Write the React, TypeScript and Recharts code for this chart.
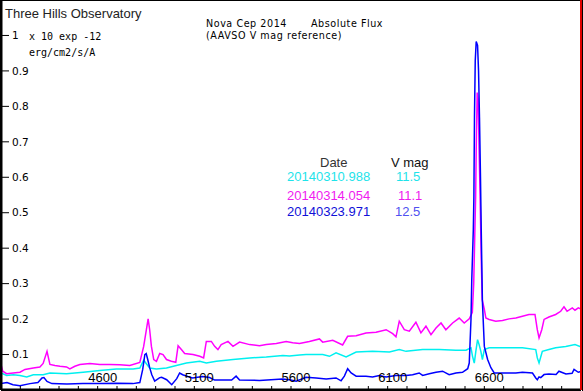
import React from 'react';
import { LineChart, Line, XAxis, YAxis } from 'recharts';

// wavelength (Angstrom), flux (x 10 exp -12 erg/cm2/s/A)
const cyanSpec: [number, number][] = [
  [4100, 0.048], [4129, 0.041], [4164, 0.043], [4198, 0.041], [4233, 0.037], [4267, 0.043],
  [4318, 0.043], [4353, 0.048], [4439, 0.046], [4525, 0.05], [4611, 0.055], [4697, 0.0595],
  [4749, 0.0595], [4783, 0.0595], [4818, 0.062], [4838, 0.084], [4852, 0.074], [4869, 0.062],
  [4904, 0.0595], [4956, 0.062], [5007, 0.069], [5059, 0.076], [5128, 0.081], [5162, 0.076],
  [5214, 0.081], [5300, 0.086], [5386, 0.0905], [5472, 0.093], [5558, 0.097], [5592, 0.096],
  [5644, 0.099], [5678, 0.1], [5764, 0.1], [5799, 0.095], [5833, 0.105], [5885, 0.093],
  [5937, 0.107], [6022, 0.109], [6109, 0.107], [6160, 0.114], [6195, 0.109], [6281, 0.114],
  [6367, 0.114], [6453, 0.112], [6505, 0.112], [6531, 0.119], [6539, 0.095], [6548, 0.076],
  [6556, 0.109], [6565, 0.142], [6573, 0.128], [6582, 0.109], [6590, 0.086], [6600, 0.114],
  [6625, 0.119], [6711, 0.119], [6797, 0.119], [6866, 0.114], [6874, 0.0905], [6883, 0.076],
  [6900, 0.109], [6934, 0.114], [6969, 0.119], [7021, 0.123], [7069, 0.128], [7094, 0.123],
  [7100, 0.124],
];

const magentaSpec: [number, number][] = [
  [4100, 0.072], [4109, 0.053], [4129, 0.046], [4198, 0.05], [4224, 0.058], [4267, 0.062],
  [4301, 0.065], [4318, 0.075], [4338, 0.109], [4353, 0.072], [4379, 0.069], [4405, 0.067],
  [4439, 0.065], [4456, 0.0595], [4482, 0.067], [4508, 0.072], [4560, 0.0745], [4611, 0.072],
  [4663, 0.072], [4714, 0.071], [4766, 0.069], [4818, 0.078], [4838, 0.123], [4852, 0.17],
  [4861, 0.2006], [4869, 0.17], [4878, 0.123], [4890, 0.086], [4904, 0.081], [4921, 0.103],
  [4938, 0.1], [4956, 0.086], [4981, 0.081], [5004, 0.078], [5016, 0.125], [5033, 0.114],
  [5050, 0.103], [5093, 0.1], [5128, 0.095], [5148, 0.0905], [5162, 0.137], [5188, 0.137],
  [5205, 0.123], [5222, 0.114], [5239, 0.128], [5274, 0.137], [5300, 0.123], [5334, 0.135],
  [5386, 0.128], [5437, 0.125], [5472, 0.128], [5524, 0.131], [5575, 0.137], [5609, 0.133],
  [5644, 0.131], [5695, 0.137], [5747, 0.144], [5764, 0.135], [5816, 0.14], [5867, 0.127],
  [5893, 0.1515], [5937, 0.153], [5988, 0.161], [6040, 0.163], [6092, 0.17], [6126, 0.159],
  [6143, 0.15], [6160, 0.194], [6186, 0.17], [6212, 0.166], [6246, 0.191], [6272, 0.161],
  [6298, 0.18], [6324, 0.156], [6350, 0.175], [6376, 0.189], [6401, 0.17], [6436, 0.189],
  [6470, 0.203], [6496, 0.189], [6522, 0.2006], [6533, 0.213], [6538, 0.219], [6545, 0.3],
  [6555, 0.546], [6558, 0.68], [6563, 0.839], [6568, 0.82], [6573, 0.68], [6578, 0.551],
  [6584, 0.37], [6589, 0.255], [6600, 0.227], [6608, 0.203], [6625, 0.199], [6659, 0.194],
  [6694, 0.196], [6728, 0.2006], [6763, 0.203], [6797, 0.208], [6831, 0.213], [6862, 0.213],
  [6874, 0.17], [6883, 0.147], [6897, 0.17], [6909, 0.199], [6934, 0.206], [6969, 0.213],
  [6995, 0.222], [7012, 0.2345], [7028, 0.222], [7055, 0.2316], [7069, 0.225], [7086, 0.2316],
  [7100, 0.228],
];

const blueSpec: [number, number][] = [
  [4100, 0.018], [4131, 0.021], [4162, 0.015], [4198, 0.012], [4250, 0.018], [4291, 0.021],
  [4312, 0.034], [4322, 0.035], [4338, 0.024], [4363, 0.018], [4441, 0.017], [4523, 0.018],
  [4611, 0.018], [4699, 0.019], [4782, 0.018], [4818, 0.021], [4833, 0.058], [4844, 0.1],
  [4851, 0.103], [4859, 0.086], [4869, 0.063], [4880, 0.043], [4895, 0.025], [4921, 0.035],
  [4931, 0.036], [4957, 0.029], [4983, 0.015], [5009, 0.032], [5024, 0.048], [5040, 0.043],
  [5066, 0.038], [5091, 0.034], [5143, 0.038], [5179, 0.035], [5205, 0.028], [5293, 0.028],
  [5316, 0.039], [5334, 0.028], [5437, 0.027], [5556, 0.031], [5592, 0.029], [5627, 0.025],
  [5678, 0.036], [5730, 0.034], [5782, 0.031], [5833, 0.034], [5859, 0.026], [5876, 0.039],
  [5893, 0.06], [5911, 0.048], [5937, 0.039], [5988, 0.039], [6022, 0.037], [6057, 0.041],
  [6092, 0.037], [6143, 0.041], [6195, 0.041], [6229, 0.043], [6263, 0.048], [6281, 0.041],
  [6315, 0.046], [6350, 0.05], [6384, 0.053], [6418, 0.043], [6453, 0.048], [6487, 0.05],
  [6514, 0.06], [6522, 0.076], [6531, 0.2], [6535, 0.31], [6543, 0.452], [6546, 0.546],
  [6549, 0.771], [6553, 0.929], [6558, 0.983], [6565, 0.972], [6570, 0.901], [6575, 0.768],
  [6580, 0.602], [6584, 0.452], [6590, 0.25], [6600, 0.123], [6617, 0.086], [6634, 0.063],
  [6651, 0.048], [6711, 0.048], [6763, 0.048], [6797, 0.05], [6849, 0.048], [6866, 0.034],
  [6874, 0.029], [6883, 0.037], [6892, 0.035], [6909, 0.0435], [6934, 0.045], [6971, 0.0435],
  [6986, 0.053], [7022, 0.045], [7054, 0.047], [7064, 0.058], [7086, 0.05], [7100, 0.052],
];

const xMinorTicks = [
  4100, 4200, 4300, 4400, 4500, 4600, 4700, 4800, 4900, 5000, 5100, 5200, 5300, 5400, 5500,
  5600, 5700, 5800, 5900, 6000, 6100, 6200, 6300, 6400, 6500, 6600, 6700, 6800, 6900, 7000, 7100,
];
const xLabelTicks = [4600, 5100, 5600, 6100, 6600];
const yTicks = [0.1, 0.2, 0.3, 0.4, 0.5, 0.6, 0.7, 0.8, 0.9, 1];

const legendRows = [
  { date: '20140310.988', vmag: '11.5', color: '#1ee3ea', magColor: '#1ee3ea' },
  { date: '20140314.054', vmag: '11.1', color: '#f01af0', magColor: '#f01af0' },
  { date: '20140323.971', vmag: '12.5', color: '#1010d8', magColor: '#5050f0' },
];

const toPoints = (s: [number, number][]) => s.map(([w, f]) => ({ w, f }));

const XTick = (props: any) => {
  const { x, y, payload } = props;
  if (!xLabelTicks.includes(payload.value)) return <g />;
  return (
    <text x={x + 5} y={y - 2} textAnchor="middle" fontSize={13}
      fontFamily="'Liberation Sans', Arial, sans-serif" fill="#000">
      {payload.value}
    </text>
  );
};

const sans = "'Liberation Sans', Arial, sans-serif";
const dv = "'DejaVu Sans', sans-serif";

export default function App() {
  return (
    <div style={{ position: 'absolute', left: 0, top: 0, width: 583, height: 391, background: '#fff' }}>
      <LineChart width={583} height={391} margin={{ top: 0, right: 2, bottom: 1, left: 1 }}>
        <XAxis xAxisId="b" type="number" dataKey="w" domain={[4100, 7100]} allowDataOverflow
          ticks={xMinorTicks} interval={0} orientation="bottom" mirror
          axisLine={{ stroke: '#000', strokeWidth: 3 }} tickLine={{ stroke: '#000' }}
          tickSize={4} tick={<XTick />} />
        <XAxis xAxisId="t" type="number" dataKey="w" domain={[4115, 7115]} allowDataOverflow
          ticks={xMinorTicks} interval={0} orientation="top" mirror
          axisLine={{ stroke: '#000', strokeWidth: 2 }} tickLine={{ stroke: '#000' }}
          tickSize={4} tick={false} />
        <YAxis yAxisId="l" type="number" domain={[0, 1.1]} allowDataOverflow ticks={yTicks}
          interval={0} orientation="left" mirror
          axisLine={{ stroke: '#000', strokeWidth: 3 }} tickLine={{ stroke: '#000' }}
          tickSize={8} tickMargin={3}
          tick={{ fontSize: 10.5, fontFamily: dv, fill: '#000' }} />
        <YAxis yAxisId="r" type="number" domain={[0, 1.1]} allowDataOverflow ticks={yTicks}
          interval={0} orientation="right" mirror
          axisLine={{ stroke: '#e00000', strokeWidth: 2 }} tickLine={{ stroke: '#000' }}
          tickSize={5} tick={false} />
        <Line xAxisId="b" yAxisId="l" data={toPoints(cyanSpec)} dataKey="f" stroke="#00f0f0"
          strokeWidth={1.5} dot={false} isAnimationActive={false} />
        <Line xAxisId="b" yAxisId="l" data={toPoints(magentaSpec)} dataKey="f" stroke="#ff00ff"
          strokeWidth={1.5} dot={false} isAnimationActive={false} />
        <Line xAxisId="b" yAxisId="l" data={toPoints(blueSpec)} dataKey="f" stroke="#0000ff"
          strokeWidth={1.5} dot={false} isAnimationActive={false} />
      </LineChart>
      <svg width={583} height={391} style={{ position: 'absolute', left: 0, top: 0, pointerEvents: 'none' }}>
        <rect x={582} y={0} width={1} height={391} fill="#000" />
        <text x={5} y={18} fontSize={13} fontFamily={sans} fill="#222">Three Hills Observatory</text>
        <text x={29} y={40} fontSize={10} fontFamily="'DejaVu Sans Mono', monospace" fill="#000">x 10 exp -12</text>
        <text x={29} y={56} fontSize={10} fontFamily="'DejaVu Sans Mono', monospace" fill="#000">erg/cm2/s/A</text>
        <text x={206} y={26.5} fontSize={9.6} letterSpacing={0.55} fontFamily={dv} fill="#000">Nova Cep 2014</text>
        <text x={311} y={26.5} fontSize={9.6} letterSpacing={0.55} fontFamily={dv} fill="#000">Absolute Flux</text>
        <text x={206} y={38.5} fontSize={9.6} letterSpacing={0.55} fontFamily={dv} fill="#000">(AAVSO V mag reference)</text>
        <text x={320} y={167} fontSize={13} fontFamily={sans} fill="#333">Date</text>
        <text x={391} y={167} fontSize={13} fontFamily={sans} fill="#111">V mag</text>
        {legendRows.map((r, i) => (
          <g key={r.date}>
            <text x={287} y={[181, 200, 216][i]} fontSize={13} fontFamily={sans} fill={r.color}>{r.date}</text>
            <text x={[396, 398, 395][i]} y={[181, 200, 216][i]} fontSize={13} fontFamily={sans} fill={r.magColor}>{r.vmag}</text>
          </g>
        ))}
      </svg>
    </div>
  );
}
